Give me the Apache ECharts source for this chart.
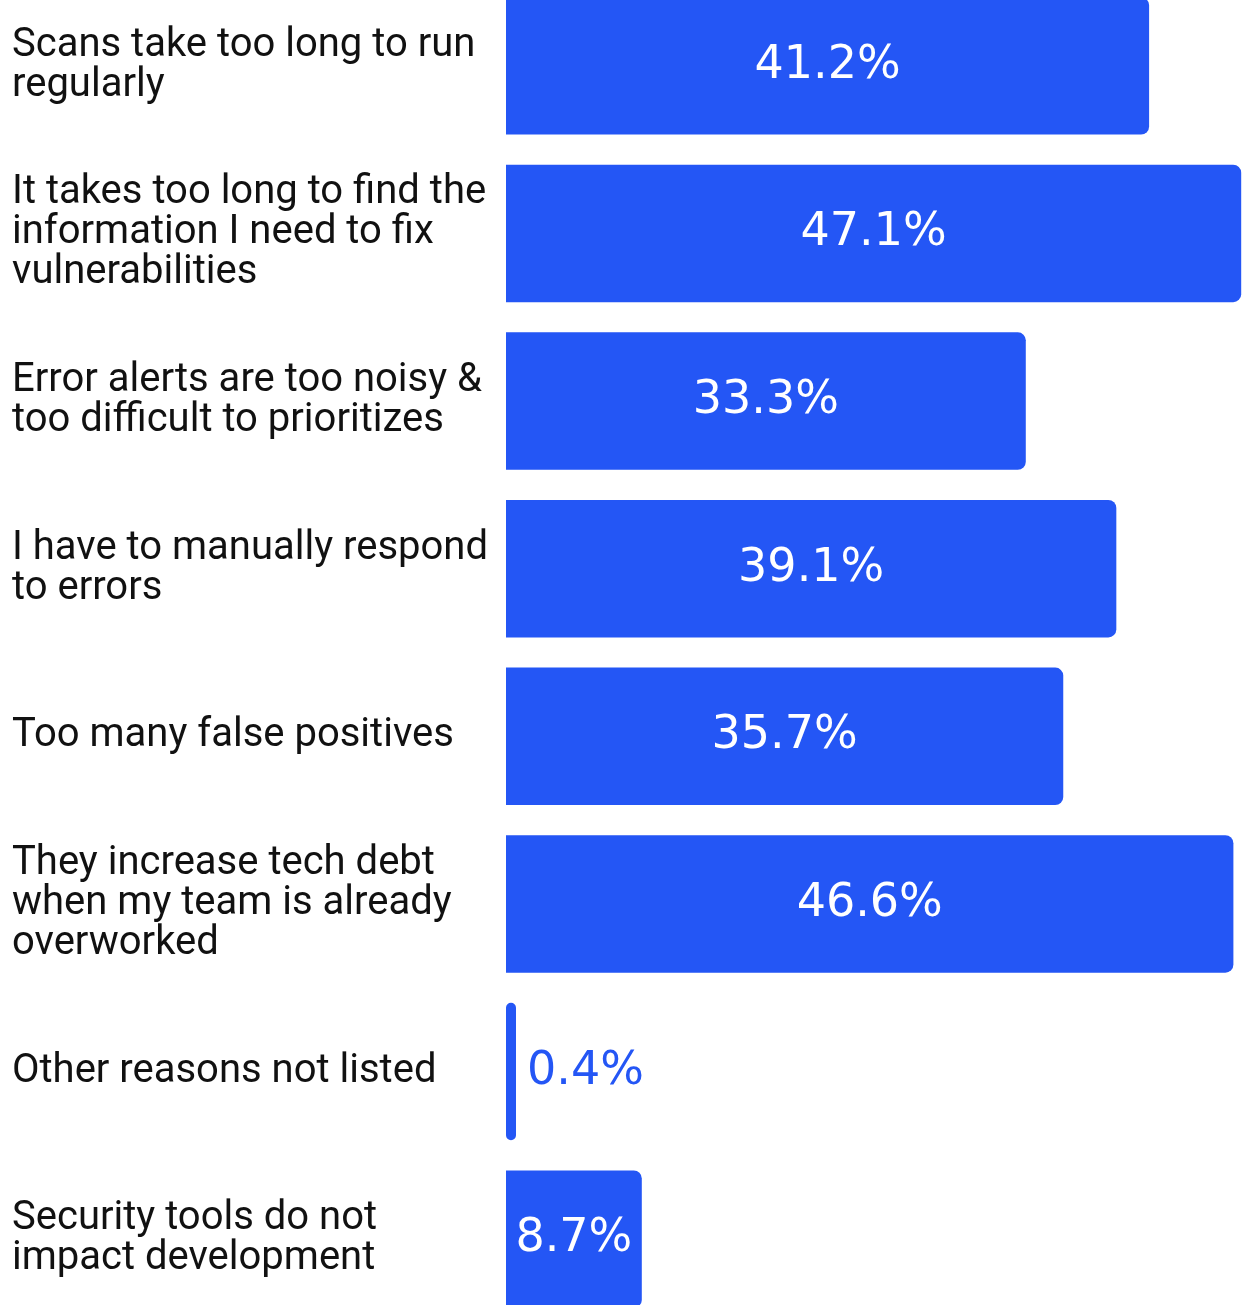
<!DOCTYPE html>
<html>
<head>
<meta charset="utf-8">
<title>Security tool pain points</title>
<script src="https://cdn.jsdelivr.net/npm/echarts@6/dist/echarts.min.js"></script>
<style>
  html, body { margin: 0; padding: 0; background: #fff; overflow: hidden; }
  /* the chart is cropped top and bottom in the reference, so the canvas is taller than the page */
  #chart { position: absolute; left: 0; top: -18px; width: 1249px; height: 1341px; }
</style>
</head>
<body>
<div id="chart"></div>
<script>
// categories (top to bottom) and their shares in percent
var categories = [
  'Scans take too long to run\nregularly',
  'It takes too long to find the\ninformation I need to fix\nvulnerabilities',
  'Error alerts are too noisy &\ntoo difficult to prioritizes',
  'I have to manually respond\nto errors',
  'Too many false positives',
  'They increase tech debt\nwhen my team is already\noverworked',
  'Other reasons not listed',
  'Security tools do not\nimpact development'
];
var values = [41.2, 47.1, 33.3, 39.1, 35.7, 46.6, 0.4, 8.7];

var blue = '#2456F5';

var chart = echarts.init(document.getElementById('chart'));

// small bars get their label outside, in blue
var barData = values.map(function (v) {
  if (v < 5) {
    return {
      value: v,
      itemStyle: { borderRadius: 5 },
      label: { position: 'right', color: blue, distance: 11 }
    };
  }
  return v;
});

chart.setOption({
  animation: false,
  grid: { left: 506, right: 0, top: 0, bottom: 0, containLabel: false },
  xAxis: {
    type: 'value',
    min: 0,
    max: 47.6,
    show: false
  },
  yAxis: {
    type: 'category',
    inverse: true,
    data: categories,
    axisLine: { show: false },
    axisTick: { show: false },
    splitLine: { show: false },
    axisLabel: {
      align: 'left',
      margin: 494,
      color: '#111',
      fontFamily: 'Roboto',
      fontSize: 40,
      lineHeight: 40,
      padding: [5, 0, 0, 0]
    }
  },
  series: [{
    type: 'bar',
    data: barData,
    barCategoryGap: '18%',
    barMinHeight: 10,
    itemStyle: { color: blue, borderRadius: [0, 8, 8, 0] },
    label: {
      show: true,
      position: 'inside',
      formatter: '{c}%',
      color: '#fff',
      fontFamily: 'DejaVu Sans',
      fontSize: 46
    }
  }]
});
</script>
</body>
</html>
